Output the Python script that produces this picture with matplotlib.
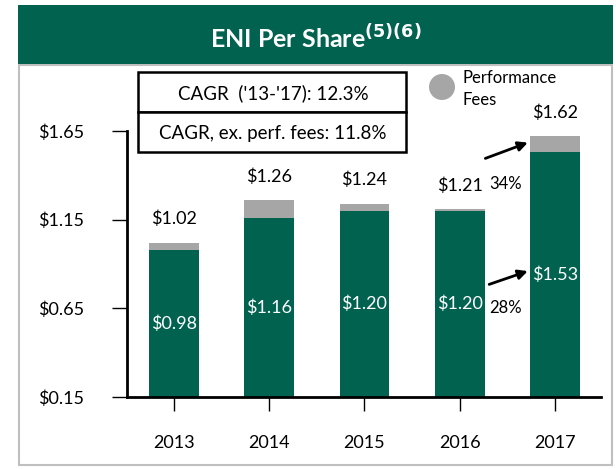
import numpy as np
import matplotlib
matplotlib.use("Agg")
from matplotlib import pyplot as plt
from matplotlib.patches import Rectangle, Ellipse

plt.rcParams['font.family'] = ['Lato', 'DejaVu Sans']

years = ["2013", "2014", "2015", "2016", "2017"]
base = [0.98, 1.16, 1.20, 1.20, 1.53]
total = [1.02, 1.26, 1.24, 1.21, 1.62]
yticks = [0.15, 0.65, 1.15, 1.65]
cagr_text = ["CAGR  ('13-'17): 12.3%", "CAGR, ex. perf. fees: 11.8%"]
pct_fees = "34%"
pct_base = "28%"

green = "#00624F"
gray = "#A6A6A6"
W, H = 616, 469


def px(x, y):
    return x / W, 1 - y / H


fig = plt.figure(figsize=(W / 100, H / 100), dpi=100)

# outer panel + header band
fig.patches.append(Rectangle(px(19, 465), 593 / W, 400 / H, transform=fig.transFigure,
                             facecolor="white", edgecolor="#BFBFBF", lw=1.5, zorder=-2))
fig.patches.append(Rectangle(px(18, 64), 595 / W, 59 / H, transform=fig.transFigure,
                             facecolor=green, edgecolor="none", zorder=-1))
fig.text(*px(316, 38), r"ENI Per Share$^{\mathbf{(5)(6)}}$", color="white", fontsize=18,
         fontweight="bold", ha="center", va="center")

ax = fig.add_axes([127 / W, 72 / H, 474 / W, 266 / H])
ax.patch.set_alpha(0)
x = np.arange(len(years))
fees = np.array(total) - np.array(base)
ax.bar(x, np.array(base) - 0.15, bottom=0.15, width=0.52, color=green)
ax.bar(x, fees, bottom=base, width=0.52, color=gray)
ax.set_ylim(0.15, 1.65)
ax.set_xlim(-0.49, 4.48)
ax.set_yticks(yticks)
ax.set_yticklabels([f"${v:.2f}" for v in yticks])
ax.set_xticks(x)
ax.set_xticklabels(years)
for s in ["top", "right"]:
    ax.spines[s].set_visible(False)
for s in ["left", "bottom"]:
    ax.spines[s].set_linewidth(2)
ax.tick_params(axis="x", length=10, width=1, pad=17, labelsize=13)
ax.tick_params(axis="y", length=11, width=1, pad=20, labelsize=13)

for i in range(len(years)):
    ax.annotate(f"${total[i]:.2f}", (x[i], total[i]), xytext=(0, 11), textcoords="offset points",
                ha="center", va="bottom", fontsize=13, annotation_clip=False)
    ax.text(x[i], (0.15 + base[i]) / 2, f"${base[i]:.2f}", color="white", ha="center",
            va="center", fontsize=13)

# arrows and percentages next to 2017
ax.annotate("", xy=(x[4] - 0.26, (base[4] + total[4]) / 2 + 0.015), xytext=(x[4] - 0.76, 1.49),
            arrowprops=dict(arrowstyle="-|>", color="black", lw=2, mutation_scale=14),
            annotation_clip=False)
ax.annotate("", xy=(x[4] - 0.26, (0.15 + base[4]) / 2 + 0.025), xytext=(x[4] - 0.72, 0.78),
            arrowprops=dict(arrowstyle="-|>", color="black", lw=2, mutation_scale=14))
ax.text(x[4] - 0.52, 1.35, pct_fees, ha="center", va="center", fontsize=12)
ax.text(x[4] - 0.52, 0.65, pct_base, ha="center", va="center", fontsize=12)

# CAGR boxes
for k, t in enumerate(cagr_text):
    y0 = 112 + 40 * k
    fig.patches.append(Rectangle(px(138, y0), 268 / W, 40 / H, transform=fig.transFigure,
                                 facecolor="white", edgecolor="black", lw=1.8, zorder=3))
    fig.text(*px(273, y0 - 19), t, ha="center", va="center", fontsize=13.5, zorder=4)

# legend
fig.patches.append(Ellipse(px(442, 87), 26 / W, 26 / H, transform=fig.transFigure,
                           facecolor=gray, edgecolor="none", zorder=3))
fig.text(*px(462, 89), "Performance\nFees", ha="left", va="center", fontsize=12,
         linespacing=1.4)

fig.savefig("out.png", dpi=100)
